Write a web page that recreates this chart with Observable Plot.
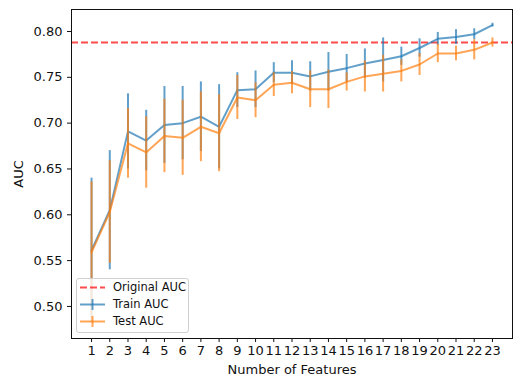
<!DOCTYPE html>
<html>
<head>
<meta charset="utf-8">
<script src="https://cdn.jsdelivr.net/npm/d3@7"></script>
<script src="https://cdn.jsdelivr.net/npm/@observablehq/plot@0.6"></script>
<style>
  html, body { margin: 0; padding: 0; background: #fff; }
  #wrap { position: relative; width: 520px; height: 377px; font-family: "DejaVu Sans", sans-serif; }
  #legend { position: absolute; left: 76px; top: 278px; width: 113px; height: 55px; box-sizing: border-box;
    border: 1px solid #d0d0d0; border-radius: 3px; background: rgba(255,255,255,0.8); font-size: 11.5px; color: #111; }
  .sw { position: absolute; left: 0; width: 34px; height: 17px; }
  .lab { position: absolute; left: 36px; height: 17px; line-height: 17px; white-space: nowrap; }
</style>
</head>
<body>
<div id="wrap">
  <div id="chart"></div>
  <div id="legend">
    <svg class="sw" style="top:0px"><line x1="3" x2="28" y1="8.5" y2="8.5" stroke="#ff0000" stroke-opacity="0.7" stroke-width="2" stroke-dasharray="7,3"/></svg>
    <div class="lab" style="top:0px">Original AUC</div>
    <svg class="sw" style="top:17px"><line x1="3" x2="28" y1="8.5" y2="8.5" stroke="#1f77b4" stroke-opacity="0.7" stroke-width="2"/><line x1="15.5" x2="15.5" y1="3" y2="14" stroke="#1f77b4" stroke-opacity="0.7" stroke-width="2"/></svg>
    <div class="lab" style="top:17px">Train AUC</div>
    <svg class="sw" style="top:34px"><line x1="3" x2="28" y1="8.5" y2="8.5" stroke="#ff7f0e" stroke-opacity="0.7" stroke-width="2"/><line x1="15.5" x2="15.5" y1="3" y2="14" stroke="#ff7f0e" stroke-opacity="0.7" stroke-width="2"/></svg>
    <div class="lab" style="top:34px">Test AUC</div>
  </div>
</div>
<script>
const features = [1,2,3,4,5,6,7,8,9,10,11,12,13,14,15,16,17,18,19,20,21,22,23];
const trainMean = [0.561,0.605,0.691,0.681,0.698,0.700,0.707,0.696,0.736,0.737,0.755,0.755,0.751,0.756,0.760,0.765,0.769,0.773,0.782,0.792,0.794,0.797,0.807];
const trainErr  = [0.079,0.065,0.041,0.033,0.042,0.040,0.038,0.046,0.019,0.020,0.011,0.013,0.016,0.021,0.015,0.016,0.024,0.010,0.010,0.007,0.008,0.006,0.002];
const testMean  = [0.559,0.603,0.678,0.668,0.686,0.684,0.696,0.689,0.728,0.725,0.742,0.744,0.737,0.737,0.745,0.751,0.754,0.757,0.764,0.776,0.776,0.780,0.788];
const testErr   = [0.077,0.056,0.038,0.039,0.040,0.041,0.038,0.042,0.024,0.019,0.013,0.012,0.020,0.021,0.010,0.017,0.020,0.012,0.012,0.010,0.008,0.011,0.005];
const originalAuc = 0.788;
const yTicks = [0.50,0.55,0.60,0.65,0.70,0.75,0.80];

const train = features.map((f,i) => ({f, m: trainMean[i], e: trainErr[i]}));
const test  = features.map((f,i) => ({f, m: testMean[i], e: testErr[i]}));

const BLUE = "#1f77b4", ORANGE = "#ff7f0e";

const chart = Plot.plot({
  width: 520, height: 377,
  marginLeft: 71, marginRight: 8, marginTop: 9, marginBottom: 39,
  style: { fontFamily: "DejaVu Sans, sans-serif", fontSize: "13px", color: "#111", background: "white" },
  x: { domain: [-0.1, 24.1] },
  y: { domain: [0.465, 0.824] },
  marks: [
    Plot.ruleY([originalAuc], { stroke: "#ff0000", strokeOpacity: 0.7, strokeWidth: 2, strokeDasharray: "7,3" }),
    Plot.line(train, { x: "f", y: "m", stroke: BLUE, strokeOpacity: 0.7, strokeWidth: 2 }),
    Plot.ruleX(train, { x: "f", y1: d => d.m - d.e, y2: d => d.m + d.e, stroke: BLUE, strokeOpacity: 0.7, strokeWidth: 2 }),
    Plot.line(test, { x: "f", y: "m", stroke: ORANGE, strokeOpacity: 0.7, strokeWidth: 2 }),
    Plot.ruleX(test, { x: "f", y1: d => d.m - d.e, y2: d => d.m + d.e, stroke: ORANGE, strokeOpacity: 0.7, strokeWidth: 2 }),
    Plot.frame({ stroke: "#111", strokeWidth: 1 }),
    Plot.axisX({ ticks: features, tickFormat: d => String(d), tickSize: 4, tickPadding: 3, fontSize: 13,
      label: "Number of Features", labelAnchor: "center", labelArrow: "none", labelOffset: 35 }),
    Plot.axisY({ ticks: yTicks, tickFormat: d3.format(".2f"), tickSize: 4, tickPadding: 5, fontSize: 13,
      label: "AUC", labelAnchor: "center", labelArrow: "none", labelOffset: 58 })
  ]
});
document.getElementById("chart").appendChild(chart);
</script>
</body>
</html>
